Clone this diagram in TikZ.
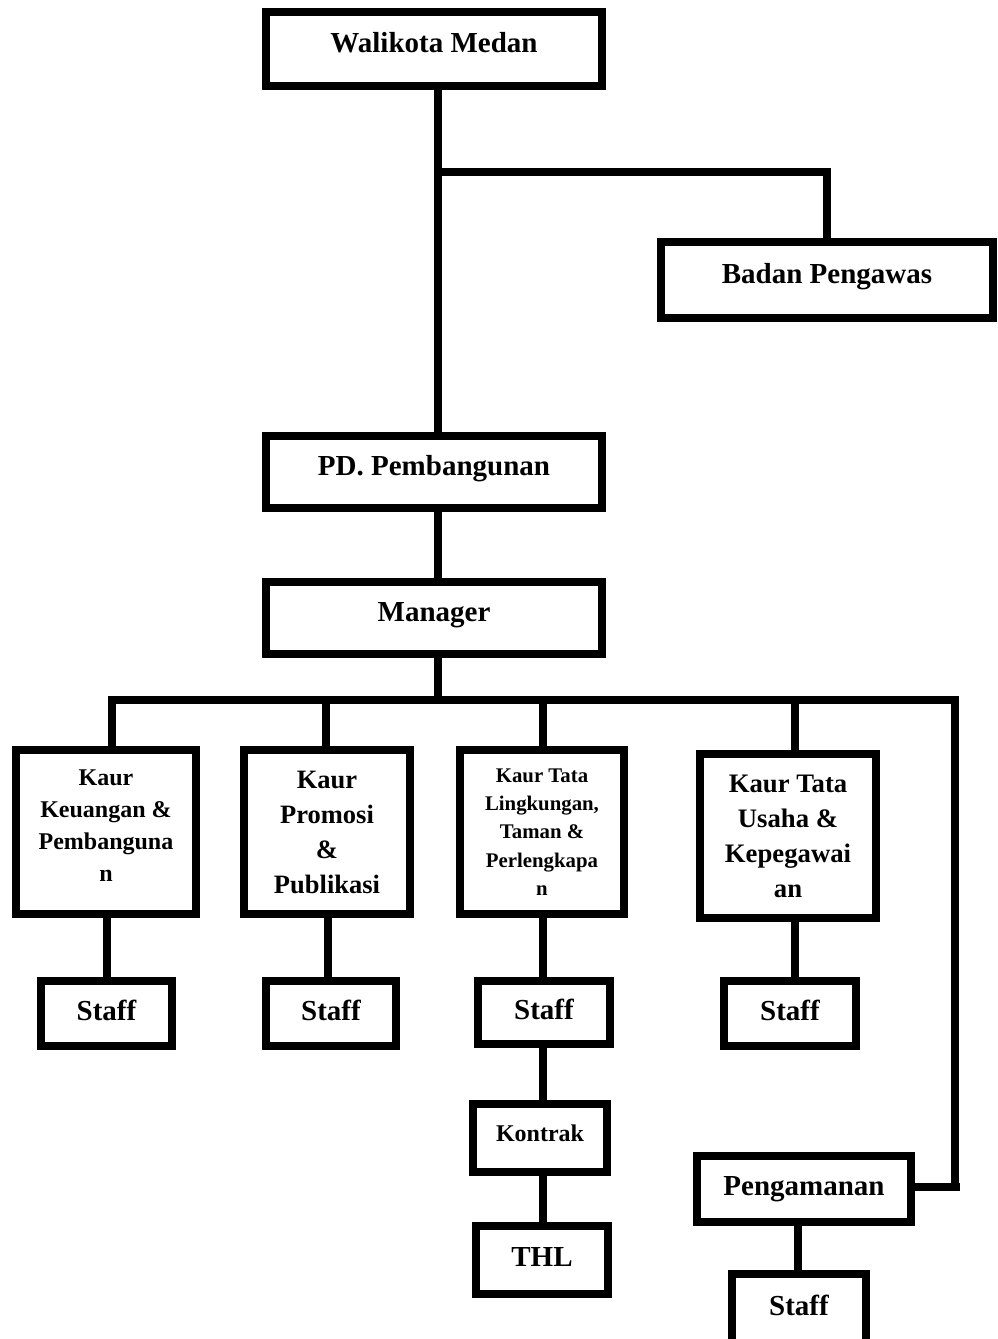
\documentclass[tikz,border=0pt]{standalone}
\usepackage{fontspec}
\setmainfont{Liberation Serif}
\begin{document}
\begin{tikzpicture}[x=1pt,y=-1pt,
  box/.style={draw=black,line width=8pt,fill=white,inner sep=0pt,align=center,font=\bfseries},
  big/.style={font=\bfseries\fontsize{29}{35}\selectfont},
  up/.style={text height=20pt,text depth=#1},
  conn/.style={draw=black,line width=8pt,line join=miter}]
\useasboundingbox (0,0) rectangle (998,1339);
\clip (0,0) rectangle (998,1339);
% top boxes
\node[box,big,up=14pt,minimum width=336,minimum height=74] (w) at (434,49) {Walikota Medan};
\node[box,big,up=14pt,minimum width=332,minimum height=76] (bp) at (827,280) {Badan Pengawas};
\node[box,big,up=14pt,minimum width=336,minimum height=72] (pd) at (434,472) {PD. Pembangunan};
\node[box,big,up=14pt,minimum width=336,minimum height=72] (m) at (434,618) {Manager};
% kaur boxes
\node[box,minimum width=180,minimum height=164,font=\bfseries\fontsize{24}{32}\selectfont] (k1) at (106,832) {Kaur\\Keuangan \&\\Pembanguna\\n\\[-20pt]\mbox{}};
\node[box,minimum width=166,minimum height=164,font=\bfseries\fontsize{26.5}{35}\selectfont] (k2) at (327,832) {Kaur\\Promosi\\\&\\Publikasi};
\node[box,minimum width=164,minimum height=164,font=\bfseries\fontsize{20.8}{28.3}\selectfont] (k3) at (542,832) {Kaur Tata\\Lingkungan,\\Taman \&\\Perlengkapa\\n};
\node[box,minimum width=176,minimum height=164,font=\bfseries\fontsize{26.7}{35}\selectfont] (k4) at (788,836) {Kaur Tata\\Usaha \&\\Kepegawai\\an};
% staff boxes
\node[box,big,up=7pt,minimum width=131,minimum height=65] (s1) at (106.5,1013.5) {Staff};
\node[box,big,up=7pt,minimum width=130,minimum height=65] (s2) at (331,1013.5) {Staff};
\node[box,big,up=7pt,minimum width=132,minimum height=63] (s3) at (544,1012.5) {Staff};
\node[box,big,up=7pt,minimum width=132,minimum height=65] (s4) at (790,1013.5) {Staff};
\node[box,up=14pt,minimum width=134,minimum height=68,font=\bfseries\fontsize{24}{30}\selectfont] (ko) at (540,1138) {Kontrak};
\node[box,big,up=8pt,minimum width=132,minimum height=68] (thl) at (542,1260) {THL};
\node[box,big,up=8pt,minimum width=214,minimum height=66] (pg) at (804,1189) {Pengamanan};
\node[box,big,up=10pt,minimum width=134,minimum height=72] (s5) at (799,1310) {Staff};
% junction coordinates
\coordinate (j1) at (438,172);
\coordinate (bus) at (438,700);
\coordinate (d1) at (112,700);
\coordinate (d2) at (326,700);
\coordinate (d3) at (543,700);
\coordinate (d4) at (795,700);
\coordinate (d5) at (955,700);
\coordinate (e5) at (960,1187);
% connectors
\draw[conn] (w.south -| j1) -- (pd.north -| j1);
\draw[conn] (j1) -| (bp.north);
\draw[conn] (pd.south -| j1) -- (m.north -| j1);
\draw[conn] (m.south -| bus) -- (bus);
\draw[conn] (k1.north -| d1) -- (d1) -- (d5) -- (d5 |- e5) -- (pg.east |- e5);
\draw[conn] (d5 |- e5) -- (e5);
\draw[conn] (d2) -- (k2.north -| d2);
\draw[conn] (d3) -- (k3.north -| d3);
\draw[conn] (d4) -- (k4.north -| d4);
\draw[conn] (k1.south -| 107,0) -- (s1.north -| 107,0);
\draw[conn] (k2.south -| 328,0) -- (s2.north -| 328,0);
\draw[conn] (k3.south -| 543,0) -- (s3.north -| 543,0);
\draw[conn] (k4.south -| 795,0) -- (s4.north -| 795,0);
\draw[conn] (s3.south -| 543,0) -- (ko.north -| 543,0);
\draw[conn] (ko.south -| 543,0) -- (thl.north -| 543,0);
\draw[conn] (pg.south -| 798,0) -- (s5.north -| 798,0);
\end{tikzpicture}
\end{document}
